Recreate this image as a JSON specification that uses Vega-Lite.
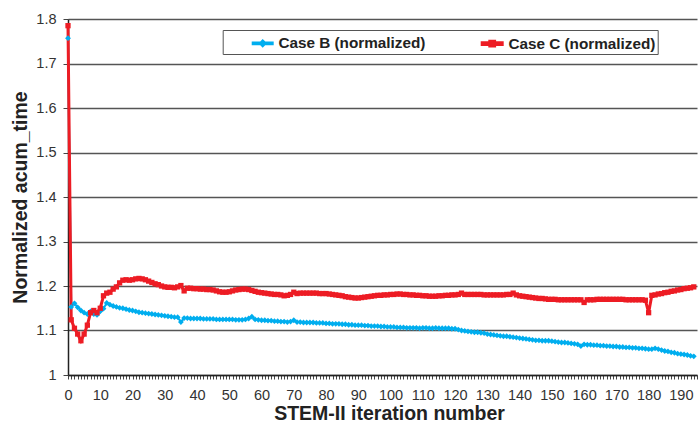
{
  "$schema": "https://vega.github.io/schema/vega-lite/v6.json",
  "autosize": {"type": "none"},
  "padding": {"left": 68, "top": 19, "right": 1, "bottom": 53},
  "width": 629,
  "height": 356,
  "background": "white",
  "config": {
    "view": {"stroke": null},
    "font": "Liberation Sans"
  },
  "data": {
    "values": [
{"iteration":0,"Case B (normalized)":1.757,"Case C (normalized)":1.785},
{"iteration":1,"Case B (normalized)":1.153,"Case C (normalized)":1.124},
{"iteration":2,"Case B (normalized)":1.161,"Case C (normalized)":1.105},
{"iteration":3,"Case B (normalized)":1.152,"Case C (normalized)":1.092},
{"iteration":4,"Case B (normalized)":1.145,"Case C (normalized)":1.077},
{"iteration":5,"Case B (normalized)":1.140,"Case C (normalized)":1.092},
{"iteration":6,"Case B (normalized)":1.137,"Case C (normalized)":1.112},
{"iteration":7,"Case B (normalized)":1.143,"Case C (normalized)":1.140},
{"iteration":8,"Case B (normalized)":1.137,"Case C (normalized)":1.145},
{"iteration":9,"Case B (normalized)":1.135,"Case C (normalized)":1.140},
{"iteration":10,"Case B (normalized)":1.143,"Case C (normalized)":1.150},
{"iteration":11,"Case B (normalized)":1.149,"Case C (normalized)":1.178},
{"iteration":12,"Case B (normalized)":1.162,"Case C (normalized)":1.184},
{"iteration":13,"Case B (normalized)":1.158,"Case C (normalized)":1.186},
{"iteration":14,"Case B (normalized)":1.155,"Case C (normalized)":1.193},
{"iteration":15,"Case B (normalized)":1.153,"Case C (normalized)":1.198},
{"iteration":16,"Case B (normalized)":1.151,"Case C (normalized)":1.207},
{"iteration":17,"Case B (normalized)":1.150,"Case C (normalized)":1.213},
{"iteration":18,"Case B (normalized)":1.148,"Case C (normalized)":1.214},
{"iteration":19,"Case B (normalized)":1.146,"Case C (normalized)":1.213},
{"iteration":20,"Case B (normalized)":1.145,"Case C (normalized)":1.214},
{"iteration":21,"Case B (normalized)":1.143,"Case C (normalized)":1.216},
{"iteration":22,"Case B (normalized)":1.141,"Case C (normalized)":1.217},
{"iteration":23,"Case B (normalized)":1.140,"Case C (normalized)":1.216},
{"iteration":24,"Case B (normalized)":1.139,"Case C (normalized)":1.214},
{"iteration":25,"Case B (normalized)":1.138,"Case C (normalized)":1.211},
{"iteration":26,"Case B (normalized)":1.137,"Case C (normalized)":1.208},
{"iteration":27,"Case B (normalized)":1.136,"Case C (normalized)":1.205},
{"iteration":28,"Case B (normalized)":1.135,"Case C (normalized)":1.203},
{"iteration":29,"Case B (normalized)":1.134,"Case C (normalized)":1.200},
{"iteration":30,"Case B (normalized)":1.133,"Case C (normalized)":1.198},
{"iteration":31,"Case B (normalized)":1.132,"Case C (normalized)":1.197},
{"iteration":32,"Case B (normalized)":1.131,"Case C (normalized)":1.197},
{"iteration":33,"Case B (normalized)":1.130,"Case C (normalized)":1.196},
{"iteration":34,"Case B (normalized)":1.130,"Case C (normalized)":1.198},
{"iteration":35,"Case B (normalized)":1.119,"Case C (normalized)":1.201},
{"iteration":36,"Case B (normalized)":1.128,"Case C (normalized)":1.189},
{"iteration":37,"Case B (normalized)":1.128,"Case C (normalized)":1.195},
{"iteration":38,"Case B (normalized)":1.127,"Case C (normalized)":1.195},
{"iteration":39,"Case B (normalized)":1.127,"Case C (normalized)":1.194},
{"iteration":40,"Case B (normalized)":1.127,"Case C (normalized)":1.194},
{"iteration":41,"Case B (normalized)":1.127,"Case C (normalized)":1.193},
{"iteration":42,"Case B (normalized)":1.126,"Case C (normalized)":1.193},
{"iteration":43,"Case B (normalized)":1.126,"Case C (normalized)":1.192},
{"iteration":44,"Case B (normalized)":1.126,"Case C (normalized)":1.192},
{"iteration":45,"Case B (normalized)":1.126,"Case C (normalized)":1.191},
{"iteration":46,"Case B (normalized)":1.125,"Case C (normalized)":1.189},
{"iteration":47,"Case B (normalized)":1.125,"Case C (normalized)":1.187},
{"iteration":48,"Case B (normalized)":1.125,"Case C (normalized)":1.186},
{"iteration":49,"Case B (normalized)":1.125,"Case C (normalized)":1.186},
{"iteration":50,"Case B (normalized)":1.125,"Case C (normalized)":1.187},
{"iteration":51,"Case B (normalized)":1.125,"Case C (normalized)":1.189},
{"iteration":52,"Case B (normalized)":1.124,"Case C (normalized)":1.191},
{"iteration":53,"Case B (normalized)":1.124,"Case C (normalized)":1.192},
{"iteration":54,"Case B (normalized)":1.124,"Case C (normalized)":1.193},
{"iteration":55,"Case B (normalized)":1.125,"Case C (normalized)":1.193},
{"iteration":56,"Case B (normalized)":1.127,"Case C (normalized)":1.192},
{"iteration":57,"Case B (normalized)":1.131,"Case C (normalized)":1.190},
{"iteration":58,"Case B (normalized)":1.125,"Case C (normalized)":1.188},
{"iteration":59,"Case B (normalized)":1.124,"Case C (normalized)":1.186},
{"iteration":60,"Case B (normalized)":1.123,"Case C (normalized)":1.185},
{"iteration":61,"Case B (normalized)":1.123,"Case C (normalized)":1.184},
{"iteration":62,"Case B (normalized)":1.122,"Case C (normalized)":1.183},
{"iteration":63,"Case B (normalized)":1.122,"Case C (normalized)":1.182},
{"iteration":64,"Case B (normalized)":1.121,"Case C (normalized)":1.181},
{"iteration":65,"Case B (normalized)":1.121,"Case C (normalized)":1.181},
{"iteration":66,"Case B (normalized)":1.120,"Case C (normalized)":1.180},
{"iteration":67,"Case B (normalized)":1.120,"Case C (normalized)":1.178},
{"iteration":68,"Case B (normalized)":1.119,"Case C (normalized)":1.179},
{"iteration":69,"Case B (normalized)":1.120,"Case C (normalized)":1.181},
{"iteration":70,"Case B (normalized)":1.123,"Case C (normalized)":1.186},
{"iteration":71,"Case B (normalized)":1.119,"Case C (normalized)":1.183},
{"iteration":72,"Case B (normalized)":1.119,"Case C (normalized)":1.184},
{"iteration":73,"Case B (normalized)":1.118,"Case C (normalized)":1.184},
{"iteration":74,"Case B (normalized)":1.118,"Case C (normalized)":1.184},
{"iteration":75,"Case B (normalized)":1.118,"Case C (normalized)":1.184},
{"iteration":76,"Case B (normalized)":1.118,"Case C (normalized)":1.184},
{"iteration":77,"Case B (normalized)":1.117,"Case C (normalized)":1.184},
{"iteration":78,"Case B (normalized)":1.117,"Case C (normalized)":1.183},
{"iteration":79,"Case B (normalized)":1.117,"Case C (normalized)":1.183},
{"iteration":80,"Case B (normalized)":1.116,"Case C (normalized)":1.183},
{"iteration":81,"Case B (normalized)":1.116,"Case C (normalized)":1.182},
{"iteration":82,"Case B (normalized)":1.115,"Case C (normalized)":1.181},
{"iteration":83,"Case B (normalized)":1.115,"Case C (normalized)":1.180},
{"iteration":84,"Case B (normalized)":1.115,"Case C (normalized)":1.179},
{"iteration":85,"Case B (normalized)":1.114,"Case C (normalized)":1.178},
{"iteration":86,"Case B (normalized)":1.114,"Case C (normalized)":1.176},
{"iteration":87,"Case B (normalized)":1.113,"Case C (normalized)":1.175},
{"iteration":88,"Case B (normalized)":1.113,"Case C (normalized)":1.174},
{"iteration":89,"Case B (normalized)":1.112,"Case C (normalized)":1.173},
{"iteration":90,"Case B (normalized)":1.112,"Case C (normalized)":1.173},
{"iteration":91,"Case B (normalized)":1.112,"Case C (normalized)":1.174},
{"iteration":92,"Case B (normalized)":1.111,"Case C (normalized)":1.175},
{"iteration":93,"Case B (normalized)":1.111,"Case C (normalized)":1.176},
{"iteration":94,"Case B (normalized)":1.110,"Case C (normalized)":1.177},
{"iteration":95,"Case B (normalized)":1.110,"Case C (normalized)":1.178},
{"iteration":96,"Case B (normalized)":1.110,"Case C (normalized)":1.179},
{"iteration":97,"Case B (normalized)":1.109,"Case C (normalized)":1.179},
{"iteration":98,"Case B (normalized)":1.109,"Case C (normalized)":1.180},
{"iteration":99,"Case B (normalized)":1.108,"Case C (normalized)":1.180},
{"iteration":100,"Case B (normalized)":1.108,"Case C (normalized)":1.181},
{"iteration":101,"Case B (normalized)":1.108,"Case C (normalized)":1.181},
{"iteration":102,"Case B (normalized)":1.107,"Case C (normalized)":1.182},
{"iteration":103,"Case B (normalized)":1.107,"Case C (normalized)":1.182},
{"iteration":104,"Case B (normalized)":1.107,"Case C (normalized)":1.181},
{"iteration":105,"Case B (normalized)":1.106,"Case C (normalized)":1.181},
{"iteration":106,"Case B (normalized)":1.106,"Case C (normalized)":1.180},
{"iteration":107,"Case B (normalized)":1.106,"Case C (normalized)":1.180},
{"iteration":108,"Case B (normalized)":1.106,"Case C (normalized)":1.179},
{"iteration":109,"Case B (normalized)":1.105,"Case C (normalized)":1.179},
{"iteration":110,"Case B (normalized)":1.106,"Case C (normalized)":1.178},
{"iteration":111,"Case B (normalized)":1.106,"Case C (normalized)":1.178},
{"iteration":112,"Case B (normalized)":1.105,"Case C (normalized)":1.177},
{"iteration":113,"Case B (normalized)":1.105,"Case C (normalized)":1.177},
{"iteration":114,"Case B (normalized)":1.106,"Case C (normalized)":1.177},
{"iteration":115,"Case B (normalized)":1.105,"Case C (normalized)":1.178},
{"iteration":116,"Case B (normalized)":1.105,"Case C (normalized)":1.178},
{"iteration":117,"Case B (normalized)":1.105,"Case C (normalized)":1.179},
{"iteration":118,"Case B (normalized)":1.105,"Case C (normalized)":1.179},
{"iteration":119,"Case B (normalized)":1.104,"Case C (normalized)":1.180},
{"iteration":120,"Case B (normalized)":1.104,"Case C (normalized)":1.180},
{"iteration":121,"Case B (normalized)":1.102,"Case C (normalized)":1.181},
{"iteration":122,"Case B (normalized)":1.100,"Case C (normalized)":1.184},
{"iteration":123,"Case B (normalized)":1.099,"Case C (normalized)":1.181},
{"iteration":124,"Case B (normalized)":1.098,"Case C (normalized)":1.181},
{"iteration":125,"Case B (normalized)":1.097,"Case C (normalized)":1.181},
{"iteration":126,"Case B (normalized)":1.096,"Case C (normalized)":1.181},
{"iteration":127,"Case B (normalized)":1.096,"Case C (normalized)":1.181},
{"iteration":128,"Case B (normalized)":1.095,"Case C (normalized)":1.181},
{"iteration":129,"Case B (normalized)":1.094,"Case C (normalized)":1.180},
{"iteration":130,"Case B (normalized)":1.092,"Case C (normalized)":1.180},
{"iteration":131,"Case B (normalized)":1.091,"Case C (normalized)":1.180},
{"iteration":132,"Case B (normalized)":1.090,"Case C (normalized)":1.180},
{"iteration":133,"Case B (normalized)":1.089,"Case C (normalized)":1.180},
{"iteration":134,"Case B (normalized)":1.088,"Case C (normalized)":1.180},
{"iteration":135,"Case B (normalized)":1.087,"Case C (normalized)":1.180},
{"iteration":136,"Case B (normalized)":1.087,"Case C (normalized)":1.181},
{"iteration":137,"Case B (normalized)":1.086,"Case C (normalized)":1.181},
{"iteration":138,"Case B (normalized)":1.085,"Case C (normalized)":1.184},
{"iteration":139,"Case B (normalized)":1.084,"Case C (normalized)":1.180},
{"iteration":140,"Case B (normalized)":1.083,"Case C (normalized)":1.178},
{"iteration":141,"Case B (normalized)":1.082,"Case C (normalized)":1.177},
{"iteration":142,"Case B (normalized)":1.081,"Case C (normalized)":1.176},
{"iteration":143,"Case B (normalized)":1.080,"Case C (normalized)":1.175},
{"iteration":144,"Case B (normalized)":1.079,"Case C (normalized)":1.174},
{"iteration":145,"Case B (normalized)":1.078,"Case C (normalized)":1.173},
{"iteration":146,"Case B (normalized)":1.078,"Case C (normalized)":1.172},
{"iteration":147,"Case B (normalized)":1.077,"Case C (normalized)":1.172},
{"iteration":148,"Case B (normalized)":1.077,"Case C (normalized)":1.171},
{"iteration":149,"Case B (normalized)":1.077,"Case C (normalized)":1.170},
{"iteration":150,"Case B (normalized)":1.076,"Case C (normalized)":1.170},
{"iteration":151,"Case B (normalized)":1.075,"Case C (normalized)":1.170},
{"iteration":152,"Case B (normalized)":1.074,"Case C (normalized)":1.169},
{"iteration":153,"Case B (normalized)":1.073,"Case C (normalized)":1.169},
{"iteration":154,"Case B (normalized)":1.073,"Case C (normalized)":1.169},
{"iteration":155,"Case B (normalized)":1.072,"Case C (normalized)":1.169},
{"iteration":156,"Case B (normalized)":1.071,"Case C (normalized)":1.169},
{"iteration":157,"Case B (normalized)":1.070,"Case C (normalized)":1.169},
{"iteration":158,"Case B (normalized)":1.069,"Case C (normalized)":1.169},
{"iteration":159,"Case B (normalized)":1.065,"Case C (normalized)":1.169},
{"iteration":160,"Case B (normalized)":1.069,"Case C (normalized)":1.163},
{"iteration":161,"Case B (normalized)":1.068,"Case C (normalized)":1.169},
{"iteration":162,"Case B (normalized)":1.068,"Case C (normalized)":1.169},
{"iteration":163,"Case B (normalized)":1.067,"Case C (normalized)":1.169},
{"iteration":164,"Case B (normalized)":1.067,"Case C (normalized)":1.170},
{"iteration":165,"Case B (normalized)":1.066,"Case C (normalized)":1.170},
{"iteration":166,"Case B (normalized)":1.066,"Case C (normalized)":1.170},
{"iteration":167,"Case B (normalized)":1.065,"Case C (normalized)":1.170},
{"iteration":168,"Case B (normalized)":1.065,"Case C (normalized)":1.170},
{"iteration":169,"Case B (normalized)":1.064,"Case C (normalized)":1.170},
{"iteration":170,"Case B (normalized)":1.064,"Case C (normalized)":1.170},
{"iteration":171,"Case B (normalized)":1.063,"Case C (normalized)":1.170},
{"iteration":172,"Case B (normalized)":1.063,"Case C (normalized)":1.170},
{"iteration":173,"Case B (normalized)":1.062,"Case C (normalized)":1.169},
{"iteration":174,"Case B (normalized)":1.062,"Case C (normalized)":1.169},
{"iteration":175,"Case B (normalized)":1.061,"Case C (normalized)":1.169},
{"iteration":176,"Case B (normalized)":1.061,"Case C (normalized)":1.169},
{"iteration":177,"Case B (normalized)":1.060,"Case C (normalized)":1.169},
{"iteration":178,"Case B (normalized)":1.060,"Case C (normalized)":1.169},
{"iteration":179,"Case B (normalized)":1.059,"Case C (normalized)":1.168},
{"iteration":180,"Case B (normalized)":1.058,"Case C (normalized)":1.140},
{"iteration":181,"Case B (normalized)":1.058,"Case C (normalized)":1.179},
{"iteration":182,"Case B (normalized)":1.060,"Case C (normalized)":1.180},
{"iteration":183,"Case B (normalized)":1.058,"Case C (normalized)":1.182},
{"iteration":184,"Case B (normalized)":1.056,"Case C (normalized)":1.183},
{"iteration":185,"Case B (normalized)":1.054,"Case C (normalized)":1.185},
{"iteration":186,"Case B (normalized)":1.053,"Case C (normalized)":1.186},
{"iteration":187,"Case B (normalized)":1.051,"Case C (normalized)":1.188},
{"iteration":188,"Case B (normalized)":1.050,"Case C (normalized)":1.189},
{"iteration":189,"Case B (normalized)":1.048,"Case C (normalized)":1.191},
{"iteration":190,"Case B (normalized)":1.047,"Case C (normalized)":1.192},
{"iteration":191,"Case B (normalized)":1.046,"Case C (normalized)":1.194},
{"iteration":192,"Case B (normalized)":1.045,"Case C (normalized)":1.195},
{"iteration":193,"Case B (normalized)":1.043,"Case C (normalized)":1.196},
{"iteration":194,"Case B (normalized)":1.042,"Case C (normalized)":1.198}
    ]
  },
  "transform": [
    {"fold": ["Case B (normalized)", "Case C (normalized)"], "as": ["series", "value"]}
  ],
  "encoding": {
    "x": {
      "field": "iteration",
      "type": "quantitative",
      "scale": {"domain": [0, 195], "nice": false, "zero": false},
      "axis": {
        "title": "STEM-II iteration number",
        "tickCount": 195,
        "labelExpr": "datum.value % 10 === 0 ? datum.label : ''",
        "labelOverlap": false,
        "labelFlush": false,
        "labelBound": false,
        "grid": false,
        "tickSize": 4,
        "tickColor": "#444",
        "tickWidth": 1,
        "domainColor": "#222",
        "domainWidth": 1.5,
        "labelFont": "Liberation Sans",
        "labelFontSize": 14.5,
        "labelColor": "#333",
        "labelPadding": 9,
        "titleFont": "Liberation Sans",
        "titleFontSize": 19.5,
        "titleFontWeight": "bold",
        "titleColor": "#222",
        "titleX": 321,
        "titleY": 44,
        "titleAlign": "center",
        "titleBaseline": "alphabetic"
      }
    },
    "y": {
      "field": "value",
      "type": "quantitative",
      "scale": {"domain": [1, 1.8], "nice": false, "zero": false},
      "axis": {
        "title": "Normalized acum_time",
        "values": [1, 1.1, 1.2, 1.3, 1.4, 1.5, 1.6, 1.7, 1.8],
        "format": ".1~f",
        "grid": true,
        "gridColor": "#555",
        "gridWidth": 1.3,
        "tickSize": 5,
        "tickColor": "#444",
        "domainColor": "#222",
        "domainWidth": 1.5,
        "labelFont": "Liberation Sans",
        "labelFontSize": 14.5,
        "labelColor": "#333",
        "labelPadding": 7,
        "titleFont": "Liberation Sans",
        "titleFontSize": 19.5,
        "titleFontWeight": "bold",
        "titleColor": "#222",
        "titleX": -41.5,
        "titleY": 178,
        "titleAngle": 270,
        "titleAlign": "center",
        "titleBaseline": "alphabetic"
      }
    },
    "color": {
      "field": "series",
      "type": "nominal",
      "scale": {"domain": ["Case B (normalized)", "Case C (normalized)"], "range": ["#00AEEF", "#ED1C24"]},
      "legend": {
        "title": null,
        "orient": "none",
        "legendX": 154.7,
        "legendY": 11,
        "direction": "horizontal",
        "strokeColor": "#555",
        "padding": 2,
        "symbolOffset": 27,
        "symbolType": "M-1,-0.09H1V0.09H-1Z M-0.25,-0.25H0.25V0.25H-0.25Z",
        "symbolSize": 400,
        "symbolFillColor": "#888",
        "symbolStrokeWidth": 0,
        "labelOffset": 4.7,
        "columnPadding": 28,
        "labelLimit": 300,
        "labelFont": "Liberation Sans",
        "labelFontSize": 15.3,
        "labelFontWeight": "bold",
        "labelColor": "#222",
        "encode": {
          "legend": {
            "update": {
              "width": {"value": 460}
            }
          },
          "symbols": {
            "update": {
              "shape": {"signal": "datum.value === 'Case B (normalized)' ? 'M-1,-0.09H1V0.09H-1Z M-0.3,0L0,-0.3L0.3,0L0,0.3Z' : 'M-1,-0.09H1V0.09H-1Z M-0.24,-0.24H0.24V0.24H-0.24Z'"},
              "fill": {"signal": "datum.value === 'Case B (normalized)' ? '#00AEEF' : '#ED1C24'"},
              "stroke": {"value": "transparent"},
              "strokeWidth": {"value": 0},
              "opacity": {"value": 1}
            }
          }
        }
      }
    }
  },
  "layer": [
    {
      "mark": {"type": "line", "interpolate": "linear"},
      "encoding": {
        "strokeWidth": {
          "field": "series", "type": "nominal",
          "scale": {"domain": ["Case B (normalized)", "Case C (normalized)"], "range": [2, 3]},
          "legend": null
        }
      }
    },
    {
      "transform": [{"filter": "datum.series === 'Case B (normalized)'"}],
      "mark": {"type": "point", "filled": true, "opacity": 1, "shape": "diamond", "size": 34}
    },
    {
      "transform": [{"filter": "datum.series === 'Case C (normalized)'"}],
      "mark": {"type": "point", "filled": true, "opacity": 1, "shape": "square", "size": 28}
    }
  ]
}
